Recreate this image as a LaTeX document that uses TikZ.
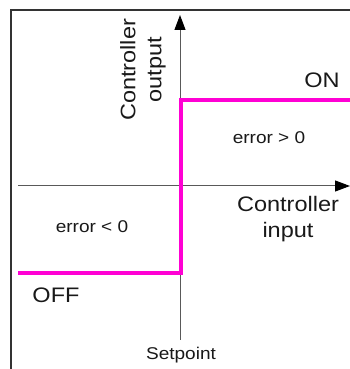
\documentclass[tikz,border=0pt]{standalone}
\usepackage{fontspec}
\setmainfont{Liberation Sans}[FakeStretch=1.12]
\usetikzlibrary{arrows.meta}
\definecolor{relaypink}{RGB}{255,0,212}
\begin{document}
\begin{tikzpicture}[x=1pt,y=1pt,
  axis/.style={draw=black!65, line width=1pt, -{Triangle[length=15pt,width=11pt,color=black,fill=black]}},
  frame/.style={draw=black!80, line width=1.5pt},
  relay/.style={draw=relaypink, line width=4pt, line join=miter},
  bigtxt/.style={font=\fontsize{21}{26}\selectfont, align=center, text=black!90},
  smalltxt/.style={font=\fontsize{17}{20}\selectfont, text=black!90}]
\useasboundingbox (0,0) rectangle (350,369);
\fill[white] (0,0) rectangle (350,369);

% outer frame
\coordinate (fb) at (11,0);
\coordinate (fc) at (11,359);
\coordinate (fr) at (350,359);
\draw[frame] (fb) -- (fc) -- (fr);

% axes
\coordinate (yb) at (180,29);
\coordinate (yt) at (180,354);
\coordinate (xl) at (18,183);
\coordinate (xr) at (350,183);
\draw[axis] (xl) -- (xr);
\draw[axis] (yb) -- (yt);

% on/off characteristic
\coordinate (p0) at (18,95.5);
\coordinate (p1) at (181,95.5);
\coordinate (p2) at (181,269);
\coordinate (p3) at (351,269);
\draw[relay] (p0) -- (p1) -- (p2) -- (p3);

% labels
\node[bigtxt, rotate=90] (yl) at (143,299) {Controller\\output};
\node[bigtxt] (xlab) at (288,149.5) {Controller\\input};
\node[bigtxt] (on) at (322,289) {ON};
\node[bigtxt] (off) at (56,74) {OFF};
\node[smalltxt] (epos) at (269,231) {error > 0};
\node[smalltxt] (eneg) at (92,142) {error < 0};
\node[smalltxt] (sp) at (181,14) {Setpoint};
\end{tikzpicture}
\end{document}
